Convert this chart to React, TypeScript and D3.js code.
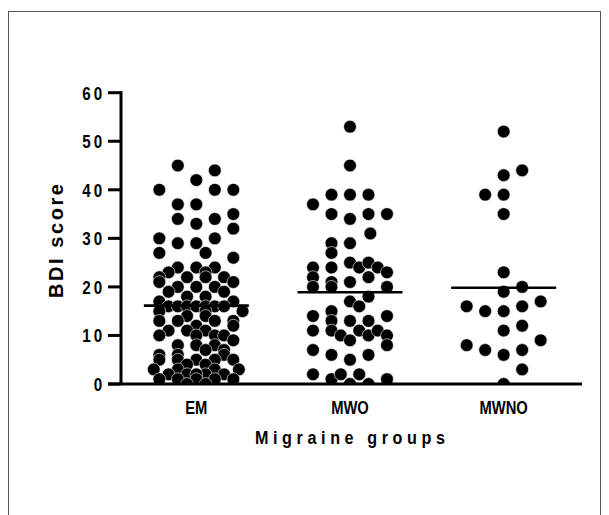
import React from "react";
import * as d3 from "d3";

// ---- data ----
const categories = ["EM", "MWO", "MWNO"];
const yTicks = [0, 10, 20, 30, 40, 50, 60];

// column slot of each dot (Prism-style scatter columns)
const emValues = [
  45, 44, 42, 40, 40, 40, 37, 37, 34, 34, 35, 33, 32, 30, 30, 29, 29, 27, 27, 26,
  24, 24, 24, 23, 23, 22, 22, 22, 21, 21, 22, 20, 20, 20, 19, 19, 18, 18, 17, 17,
  16, 16, 16, 16, 16, 16, 16, 15, 15, 15, 14, 14, 13, 13, 13, 13, 12, 12, 11, 11, 11,
  10, 10, 10, 10, 9, 8, 8, 8, 7, 7, 6, 6, 6, 5, 5, 5, 5, 5, 4, 4, 3, 3, 3, 3,
  2, 2, 2, 2, 2, 1, 1, 1, 1, 1, 0, 0,
];
const emSlots = [
  -1, 1, 0, -2, 1, 2, -1, 0, -1, 1, 2, 0, 2, -2, 1, -1, 0, -2, 0.5, 2,
  -1, 0, 1, -1.5, 0.5, -2, -0.5, 1.5, -2, 2, 0.5, 0, 1, -1, -1.5, 1.5, -0.5, 0.5, -2, 2,
  -1.5, -1, -0.5, 0, 0.5, 1, 1.5, 2.5, -2, 0.5, -0.5, 0.5, -2, -1, 1, 2, 0, 2, -1.5, 0.5, -0.5,
  -2, 0, 1, 1.5, 2, -1, 0, 1, 1.5, 0.5, -2, -1, 1.5, -2, -1, 0, 1, 2, -0.5, 0.5, -2.3, -1, 1, 2.3,
  -1.5, -0.5, 0.5, 1.5, 0, -2, -1, 0, 1, 2, -0.5, 0.5,
];

const mwoValues = [
  53, 45, 39, 39, 39, 37, 35, 34, 35, 35, 31, 29, 29, 27,
  24, 22, 20, 24, 21, 20, 25, 24, 25, 24, 23, 22, 21, 20,
  17, 16, 18, 14, 15, 13, 13, 13, 14, 11, 11, 10, 11, 10, 11, 10, 8, 9, 7, 6, 5, 6,
  2, 1, 2, 0, 2, 0, 1,
];
const mwoSlots = [
  0, 0, -1, 0, 1, -2, -1, 0, 1, 2, 1.1, -1, 0, -1,
  -2, -2, -2, -1, -1, -1, 0, 0.5, 1, 1.5, 2, 1, 0, 2,
  0, 0.5, 1, -2, -1, -1, 0, 1, 2, -2, -1, -0.5, 0.5, 1, 1.5, 2, 2, 0, -2, -1, 0, 1,
  -2, -1, -0.5, 0, 0.5, 1, 2,
];

const mwnoValues = [52, 44, 43, 39, 39, 35, 23, 20, 19, 16, 15, 15, 16, 17, 11, 12, 8, 7, 6, 7, 9, 3, 0];
const mwnoSlots = [0, 1, 0, -1, 0, 0, 0, 1, 0, -2, -1, 0, 1, 2, 0, 1, -2, -1, 0, 1, 2, 1, 0];

const groupValues = [emValues, mwoValues, mwnoValues];
const groupSlots = [emSlots, mwoSlots, mwnoSlots];

const FONT = "'Liberation Sans', Arial, Helvetica, sans-serif";

export default function App() {
  const W = 609;
  const H = 515;
  const axisX = 121;
  const axisY = 384;

  const y = d3.scaleLinear().domain([0, 60]).range([axisY, 92.7]);
  const x = d3.scaleBand<string>().domain(categories).range([119.5, 580.5]);
  const slot = d3.scaleLinear().domain([-1, 1]).range([-18.5, 18.5]);
  const cx = (c: string) => (x(c) as number) + x.bandwidth() / 2;

  return (
    <svg
      width={W}
      height={H}
      style={{ position: "absolute", left: 0, top: 0, background: "#fff" }}
    >
      <defs>
        <clipPath id="plotClip">
          <rect x={0} y={0} width={W} height={axisY} />
        </clipPath>
      </defs>
      <rect x={8.5} y={11.5} width={592} height={520} fill="#fff" stroke="#555" strokeWidth={1} />

      {/* dots */}
      <g clipPath="url(#plotClip)">
        {categories.map((c, gi) =>
          groupValues[gi].map((v, i) => (
            <circle
              key={c + i}
              cx={cx(c) + slot(groupSlots[gi][i])}
              cy={y(v)}
              r={6.4}
              fill="#000"
              stroke="#fff"
              strokeWidth={0.6}
            />
          ))
        )}
      </g>

      {/* mean lines */}
      {categories.map((c, gi) => {
        const m = d3.mean(groupValues[gi]) as number;
        return (
          <line
            key={"m" + c}
            x1={cx(c) - 52.5}
            x2={cx(c) + 52.5}
            y1={y(m)}
            y2={y(m)}
            stroke="#000"
            strokeWidth={2.6}
          />
        );
      })}

      {/* y axis */}
      <line x1={axisX} x2={axisX} y1={y(60) - 1.5} y2={axisY} stroke="#000" strokeWidth={3} />
      {yTicks.map((t) => (
        <g key={"t" + t}>
          <line x1={108} x2={axisX} y1={y(t)} y2={y(t)} stroke="#000" strokeWidth={3} />
          <g transform={`translate(105.5,${y(t)}) scale(0.8,1)`}>
            <text
              x={0}
              y={0}
              dy="0.36em"
              textAnchor="end"
              fontFamily={FONT}
              fontWeight="bold"
              fontSize={19}
              letterSpacing={4}
              fill="#000"
            >
              {t}
            </text>
          </g>
        </g>
      ))}

      {/* x axis */}
      <line x1={108} x2={582} y1={axisY} y2={axisY} stroke="#000" strokeWidth={3} />
      {categories.map((c) => (
        <g key={"c" + c} transform={`translate(${cx(c)},414) scale(0.82,1)`}>
          <text
            x={0}
            y={0}
            textAnchor="middle"
            fontFamily={FONT}
            fontWeight="bold"
            fontSize={18}
            fill="#000"
          >
            {c}
          </text>
        </g>
      ))}

      <g transform="translate(255,444) scale(0.85,1)">
        <text
          x={0}
          y={0}
          textLength={190 / 0.85}
          lengthAdjust="spacing"
          fontFamily={FONT}
          fontWeight="bold"
          fontSize={19}
          fill="#000"
        >
          Migraine groups
        </text>
      </g>

      <g transform="translate(63,241) rotate(-90)">
        <text
          x={0}
          y={0}
          textAnchor="middle"
          textLength={114}
          lengthAdjust="spacing"
          fontFamily={FONT}
          fontWeight="bold"
          fontSize={20}
          fill="#000"
        >
          BDI score
        </text>
      </g>
    </svg>
  );
}
